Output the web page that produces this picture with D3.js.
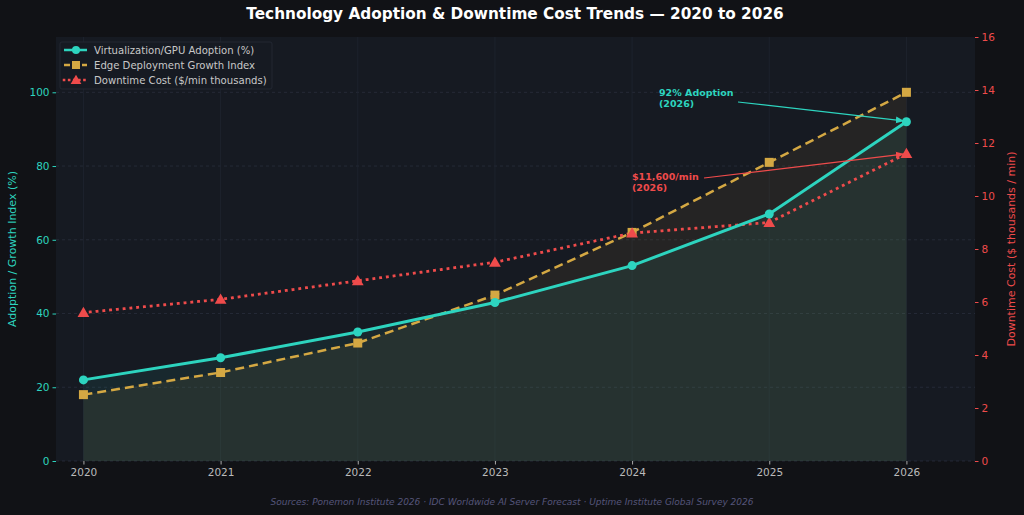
<!DOCTYPE html>
<html><head><meta charset="utf-8">
<script src="https://cdn.jsdelivr.net/npm/d3@7/dist/d3.min.js"></script>
<style>html,body{margin:0;padding:0;background:#111216;}svg{display:block;font-family:"DejaVu Sans",sans-serif;}</style>
</head><body><svg id="c" width="1024" height="515"></svg>
<script>
const years = [2020, 2021, 2022, 2023, 2024, 2025, 2026];
const adoption = [22, 28, 35, 43, 53, 67, 92];
const edgeIndex = [18, 24, 32, 45, 62, 81, 100];
const downtime = [5.6, 6.1, 6.8, 7.5, 8.6, 9.0, 11.6];
const leftTicks = [0, 20, 40, 60, 80, 100];
const rightTicks = [0, 2, 4, 6, 8, 10, 12, 14, 16];
const seriesNames = ["Virtualization/GPU Adoption (%)", "Edge Deployment Growth Index", "Downtime Cost ($/min thousands)"];

const C = {teal:"#2dd4bf", gold:"#d4a843", red:"#ef4b4b", bg:"#111216", face:"#161a22"};
const svg = d3.select("#c");
const L = 56, R = 975, T = 37, B = 461;
svg.append("rect").attr("width",1024).attr("height",515).attr("fill",C.bg);
svg.append("rect").attr("x",L).attr("y",T).attr("width",R-L).attr("height",B-T).attr("fill",C.face);

const x = d3.scaleLinear().domain([2019.8, 2026.5]).range([L, R]);
const yL = d3.scaleLinear().domain([0, 115]).range([B, T]);
const yR = d3.scaleLinear().domain([0, 16]).range([B, T]);

// grid
const g = svg.append("g");
leftTicks.forEach(t => g.append("line").attr("x1",L).attr("x2",R).attr("y1",yL(t)).attr("y2",yL(t))
  .attr("stroke","#2a2f3c").attr("stroke-dasharray","3,3").attr("stroke-width",0.8));
years.forEach(t => g.append("line").attr("x1",x(t)).attr("x2",x(t)).attr("y1",T).attr("y2",B)
  .attr("stroke","#1f2430").attr("stroke-width",0.8));

// fills
const idx = d3.range(years.length);
svg.append("path").attr("d", d3.area().x(i=>x(years[i])).y0(yL(0)).y1(i=>yL(edgeIndex[i]))(idx))
  .attr("fill",C.gold).attr("fill-opacity",0.08);
svg.append("path").attr("d", d3.area().x(i=>x(years[i])).y0(yL(0)).y1(i=>yL(adoption[i]))(idx))
  .attr("fill",C.teal).attr("fill-opacity",0.08);

// lines
const lineL = arr => d3.line().x(i=>x(years[i])).y(i=>yL(arr[i]))(idx);
svg.append("path").attr("d", lineL(edgeIndex)).attr("fill","none").attr("stroke",C.gold)
  .attr("stroke-width",2.5).attr("stroke-dasharray","9,5");
svg.append("path").attr("d", d3.line().x(i=>x(years[i])).y(i=>yR(downtime[i]))(idx)).attr("fill","none")
  .attr("stroke",C.red).attr("stroke-width",2.8).attr("stroke-dasharray","0.1,6.7").attr("stroke-linecap","square");
svg.append("path").attr("d", lineL(adoption)).attr("fill","none").attr("stroke",C.teal).attr("stroke-width",3);

// markers
const tri = d3.symbol().type(d3.symbolTriangle).size(60);
idx.forEach(i => {
  svg.append("rect").attr("x",x(years[i])-4.5).attr("y",yL(edgeIndex[i])-4.5).attr("width",9).attr("height",9).attr("fill",C.gold);
  svg.append("path").attr("d",tri()).attr("transform",`translate(${x(years[i])},${yR(downtime[i])+1})`).attr("fill",C.red);
  svg.append("circle").attr("cx",x(years[i])).attr("cy",yL(adoption[i])).attr("r",4.5).attr("fill",C.teal);
});

// axes
const axL = svg.append("g").attr("transform",`translate(${L},0)`).call(d3.axisLeft(yL).tickValues(leftTicks).tickSize(3.5).tickPadding(3));
axL.selectAll("line").attr("stroke",C.teal); axL.selectAll("text").attr("fill",C.teal).attr("font-size",10.5).attr("font-family","DejaVu Sans");
const axR = svg.append("g").attr("transform",`translate(${R},0)`).call(d3.axisRight(yR).tickValues(rightTicks).tickSize(3.5).tickPadding(3));
axR.selectAll("line").attr("stroke",C.red); axR.selectAll("text").attr("fill",C.red).attr("font-size",10.5).attr("font-family","DejaVu Sans");
const axB = svg.append("g").attr("transform",`translate(0,${B})`).call(d3.axisBottom(x).tickValues(years).tickFormat(d3.format("d")).tickSize(3.5).tickPadding(4));
axB.selectAll("line").attr("stroke","#aaaaaa"); axB.selectAll("text").attr("fill","#bbbbbb").attr("font-size",10.5).attr("font-family","DejaVu Sans");
[axL,axR,axB].forEach(a=>a.select(".domain").remove());

// axis labels
svg.append("text").attr("transform","translate(16,249) rotate(-90)").attr("text-anchor","middle")
  .attr("fill",C.teal).attr("font-size",11).text("Adoption / Growth Index (%)");
svg.append("text").attr("transform","translate(1015,249) rotate(-90)").attr("text-anchor","middle")
  .attr("fill",C.red).attr("font-size",11).text("Downtime Cost ($ thousands / min)");

// title
svg.append("text").attr("x",515).attr("y",19).attr("text-anchor","middle").attr("fill","#ffffff")
  .attr("font-size",15.3).attr("font-weight","bold").text("Technology Adoption & Downtime Cost Trends — 2020 to 2026");
// footer
svg.append("text").attr("x",512).attr("y",505).attr("text-anchor","middle").attr("fill","#55557a")
  .attr("font-size",9).attr("font-style","italic").text("Sources: Ponemon Institute 2026 · IDC Worldwide AI Server Forecast · Uptime Institute Global Survey 2026");

// legend
const lg = svg.append("g").attr("transform","translate(60,42)");
lg.append("rect").attr("width",212).attr("height",47).attr("rx",2).attr("fill","#161a22").attr("stroke","#262b36").attr("stroke-width",0.8);
const items = [{c:C.teal,dash:null,m:"circle"},{c:C.gold,dash:"6,3",m:"square"},{c:C.red,dash:"0.1,5",m:"tri"}];
items.forEach((it,k)=>{
  const yy = 8 + k*15;
  lg.append("line").attr("x1",4).attr("x2",27).attr("y1",yy).attr("y2",yy).attr("stroke",it.c).attr("stroke-width",2.5)
    .attr("stroke-dasharray",it.dash).attr("stroke-linecap",it.m==="tri"?"square":"butt");
  if(it.m==="circle") lg.append("circle").attr("cx",16).attr("cy",yy).attr("r",4).attr("fill",it.c);
  if(it.m==="square") lg.append("rect").attr("x",12).attr("y",yy-4).attr("width",8).attr("height",8).attr("fill",it.c);
  if(it.m==="tri") lg.append("path").attr("d",d3.symbol().type(d3.symbolTriangle).size(50)()).attr("transform",`translate(16,${yy+1})`).attr("fill",it.c);
  lg.append("text").attr("x",34).attr("y",yy+4).attr("fill","#c8c8c8").attr("font-size",10.1).text(seriesNames[k]);
});

// annotations
const defs = svg.append("defs");
function marker(id,c){defs.append("marker").attr("id",id).attr("viewBox","0 0 10 10").attr("refX",9).attr("refY",5)
  .attr("markerWidth",7).attr("markerHeight",7).attr("orient","auto").append("path").attr("d","M0,1L10,5L0,9z").attr("fill",c);}
marker("at",C.teal); marker("ar",C.red);
const last = years.length-1;
svg.append("line").attr("x1",738).attr("y1",102).attr("x2",x(years[last])-3).attr("y2",yL(adoption[last])-1)
  .attr("stroke",C.teal).attr("stroke-width",1.2).attr("marker-end","url(#at)");
svg.append("line").attr("x1",704).attr("y1",178).attr("x2",x(years[last])-3).attr("y2",yR(downtime[last])+0.5)
  .attr("stroke",C.red).attr("stroke-width",1.2).attr("marker-end","url(#ar)");
const a1 = svg.append("text").attr("fill",C.teal).attr("font-size",9.5).attr("font-weight","bold");
a1.append("tspan").attr("x",659).attr("y",96).text("92% Adoption");
a1.append("tspan").attr("x",659).attr("y",107).text("(2026)");
const a2 = svg.append("text").attr("fill",C.red).attr("font-size",9.5).attr("font-weight","bold");
a2.append("tspan").attr("x",632).attr("y",180).text("$11,600/min");
a2.append("tspan").attr("x",632).attr("y",191).text("(2026)");
</script></body></html>
